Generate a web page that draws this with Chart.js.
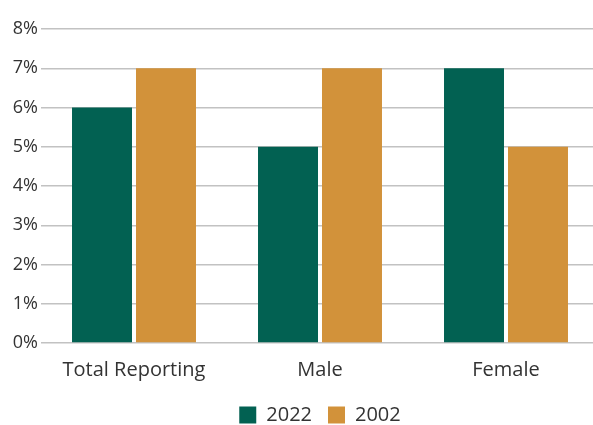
<!DOCTYPE html>
<html>
<head>
<meta charset="utf-8">
<script src="https://cdn.jsdelivr.net/npm/chart.js@4/dist/chart.umd.min.js"></script>
<style>
  html, body { margin: 0; padding: 0; background: #fff; }
  .frame { width: 593px; height: 425px; overflow: hidden; }
  .wrap { width: 600px; height: 437px; }
</style>
</head>
<body>
<div class="frame"><div class="wrap"><canvas id="chart"></canvas></div></div>
<script>
const categories = ['Total Reporting', 'Male', 'Female'];
const values2022 = [6, 5, 7];
const values2002 = [7, 7, 5];
const yTicks = [0, 1, 2, 3, 4, 5, 6, 7, 8];

const GREEN = '#026152';
const GOLD = '#d2923a';
const TEXT = '#333333';

new Chart(document.getElementById('chart'), {
  type: 'bar',
  data: {
    labels: categories,
    datasets: [
      { label: '2022', data: values2022, backgroundColor: GREEN },
      { label: '2002', data: values2002, backgroundColor: GOLD }
    ]
  },
  options: {
    responsive: true,
    maintainAspectRatio: false,
    animation: false,
    datasets: {
      bar: { categoryPercentage: 0.688, barPercentage: 0.9375 }
    },
    layout: { padding: { top: 29, right: 1, left: 0, bottom: 2 } },
    plugins: {
      legend: {
        position: 'bottom',
        fullSize: false,
        labels: {
          color: TEXT,
          font: { family: 'Open Sans', size: 20 },
          boxWidth: 17,
          boxHeight: 17,
          padding: 16
        }
      },
      tooltip: { enabled: false }
    },
    scales: {
      x: {
        grid: { display: false },
        border: { display: false },
        ticks: {
          color: TEXT,
          font: { family: 'Open Sans', size: 20, lineHeight: 1.5 },
          padding: 4,
          maxRotation: 0
        }
      },
      y: {
        min: 0,
        max: 8,
        afterBuildTicks: (scale) => {
          scale.ticks = yTicks.map(v => ({ value: v }));
        },
        afterFit: (scale) => { scale.width = 41; },
        grid: { color: '#c2c2c2', lineWidth: 1.5, drawTicks: false },
        border: { display: false },
        ticks: {
          color: TEXT,
          font: { family: 'Open Sans', size: 18 },
          padding: 3,
          callback: (v) => v + '%'
        }
      }
    }
  }
});
</script>
</body>
</html>
